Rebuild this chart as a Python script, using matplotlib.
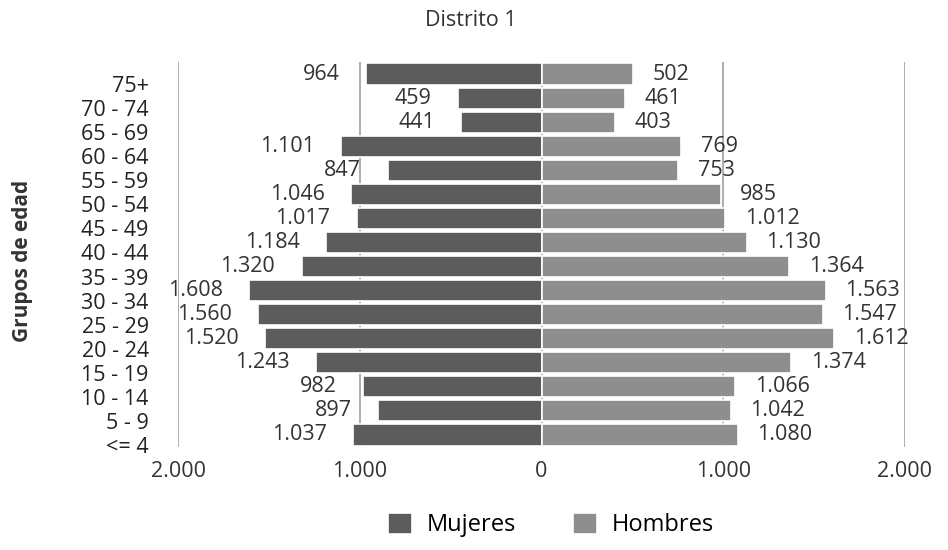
import matplotlib.pyplot as plt
import matplotlib.transforms as mtransforms
import numpy as np

# age groups from bottom to top
grupos = ['<= 4', '5 - 9', '10 - 14', '15 - 19', '20 - 24', '25 - 29', '30 - 34',
          '35 - 39', '40 - 44', '45 - 49', '50 - 54', '55 - 59', '60 - 64',
          '65 - 69', '70 - 74', '75+']
mujeres = [1037, 897, 982, 1243, 1520, 1560, 1608, 1320, 1184, 1017, 1046, 847, 1101, 441, 459, 964]
hombres = [1080, 1042, 1066, 1374, 1612, 1547, 1563, 1364, 1130, 1012, 985, 753, 769, 403, 461, 502]
xticks = [-2000, -1000, 0, 1000, 2000]
xtick_labels = ['2.000', '1.000', '0', '1.000', '2.000']

plt.rcParams['font.family'] = ['Open Sans', 'DejaVu Sans']

def fmt(v):
    return f"{v:,}".replace(',', '.')

fig = plt.figure(figsize=(9.48, 5.5), dpi=100)
ax = fig.add_axes([178 / 948, 1 - 447 / 550, 727 / 948, 385 / 550])

y = np.arange(len(grupos))
col_m = '#5c5c5c'
col_h = '#8e8e8e'
txt = '#333333'
ax.barh(y, [-v for v in mujeres], height=0.88, color=col_m, edgecolor='white',
        linewidth=1.2, label='Mujeres', zorder=2)
ax.barh(y, hombres, height=0.88, color=col_h, edgecolor='white',
        linewidth=1.2, label='Hombres', zorder=2)

for yi, m, h in zip(y, mujeres, hombres):
    ax.annotate(fmt(m), (-m, yi), xytext=(-19, 0), textcoords='offset points',
                ha='right', va='center', fontsize=15.5, color=txt)
    ax.annotate(fmt(h), (h, yi), xytext=(14, 0), textcoords='offset points',
                ha='left', va='center', fontsize=15.5, color=txt)

ax.set_xlim(-2000, 2000)
ax.set_ylim(-0.5, len(grupos) - 0.5)
ax.set_xticks(xticks)
ax.set_xticklabels(xtick_labels, fontsize=15.5, color=txt)
ax.set_yticks(y)
ax.set_yticklabels(grupos, fontsize=15.5, color='#222222')
ax.tick_params(axis='both', length=0)
ax.tick_params(axis='x', pad=10)
ax.tick_params(axis='y', pad=21)
offset = mtransforms.ScaledTranslation(0, -10 / 100, fig.dpi_scale_trans)
for lab in ax.get_yticklabels():
    lab.set_transform(lab.get_transform() + offset)

ax.grid(axis='x', color='#a0a0a0', linewidth=1.2, zorder=0)
ax.set_axisbelow(True)
for s in ax.spines.values():
    s.set_visible(False)

ax.set_ylabel('Grupos de edad', fontsize=15, fontweight='bold', color=txt)
ax.yaxis.set_label_coords(-145 / 727, (447 - 261) / 385)
fig.text(471 / 948, 1 - 20 / 550, 'Distrito 1', ha='center', va='center',
         fontsize=15.5, color=txt)

ax.legend(loc='center', bbox_to_anchor=(551 / 948, 1 - 525 / 550), bbox_transform=fig.transFigure,
          ncol=2, frameon=False, fontsize=17, handlelength=1.0, handleheight=1.0,
          columnspacing=2.4, handletextpad=0.65, borderpad=0)

fig.savefig('out.png', dpi=100)
